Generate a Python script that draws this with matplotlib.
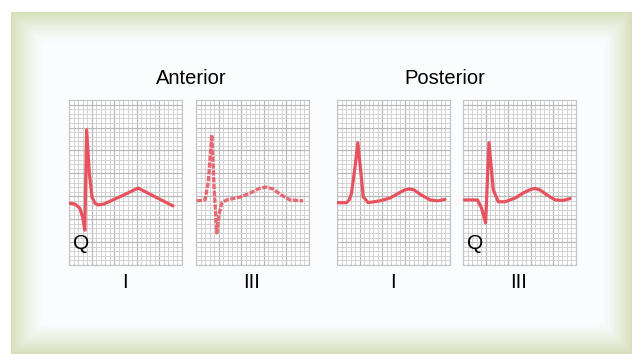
import numpy as np
import matplotlib.pyplot as plt

plt.rcParams['font.family'] = ['Liberation Sans', 'DejaVu Sans']

W, H = 632, 354

# ECG traces in grid units (x: 0..25 small squares, y: 0..36 small squares)
ant_I_x = [0, 1.3, 2.4, 3.0, 3.5, 3.9, 4.5, 5.1, 5.75, 6.4, 7.7, 11.5, 15.3, 19.0, 23.0]
ant_I_y = [13.5, 13.3, 12.4, 10.5, 7.6, 29.5, 20.0, 14.8, 13.5, 13.1, 13.3, 15.0, 16.8, 14.9, 12.9]

ant_III_x = [0.15, 2.0, 2.7, 3.5, 4.0, 4.6, 5.1, 5.7, 6.8, 9.7, 12.0, 14.0, 15.5, 17.0, 19.0, 20.8, 23.7]
ant_III_y = [14.0, 14.2, 18.0, 28.4, 17.0, 7.0, 11.0, 13.5, 14.2, 14.8, 15.7, 16.7, 17.0, 16.6, 15.2, 14.2, 14.0]

post_I_x = [0.07, 2.1, 2.7, 3.2, 4.0, 4.6, 5.3, 5.8, 6.9, 9.5, 11.7, 13.5, 15.0, 16.0, 17.0, 18.6, 20.6, 22.3, 23.9]
post_I_y = [13.6, 13.6, 14.2, 15.6, 21.5, 26.7, 20.0, 14.9, 13.6, 14.0, 14.6, 15.6, 16.4, 16.6, 16.4, 15.3, 14.2, 14.0, 14.3]

post_III_x = [0.3, 3.2, 4.1, 5.0, 5.75, 6.7, 7.8, 9.3, 11.5, 13.5, 15.0, 15.9, 17.0, 18.7, 20.4, 22.2, 23.7]
post_III_y = [14.2, 14.2, 12.4, 9.2, 26.7, 16.4, 13.8, 13.8, 14.6, 15.8, 16.5, 16.7, 16.4, 15.2, 14.2, 14.1, 14.5]

panels = [
    (69, ant_I_x, ant_I_y, '-', True),
    (196, ant_III_x, ant_III_y, 'dash', False),
    (337, post_I_x, post_I_y, '-', False),
    (463, post_III_x, post_III_y, '-', True),
]
group_titles = ['Anterior', 'Posterior']
group_title_x = [191, 445]
lead_labels = ['I', 'III', 'I', 'III']
lead_label_x = [125, 252, 393, 519]

RED = '#e8525f'
GREEN = np.array([214, 223, 186]) / 255
WHITE = np.array([251, 252, 254]) / 255

fig = plt.figure(figsize=(W / 100, H / 100), dpi=100)
fig.patch.set_facecolor('white')

# bevelled frame background
bg = fig.add_axes([0, 0, 1, 1])
bg.set_xlim(0, W)
bg.set_ylim(H, 0)
bg.axis('off')
x0, x1, y0, y1 = 11, 632, 12, 354
ix0, ix1, iy0, iy1 = 43, 602, 43, 323
xx, yy = np.meshgrid(np.arange(x0, x1) + 0.5, np.arange(y0, y1) + 0.5)
t = np.maximum.reduce([
    np.clip((ix0 - xx) / (ix0 - x0), 0, 1),
    np.clip((xx - ix1) / (x1 - ix1), 0, 1),
    np.clip((iy0 - yy) / (iy0 - y0), 0, 1),
    np.clip((yy - iy1) / (y1 - iy1), 0, 1),
])
t = t ** 1.3
img = WHITE[None, None, :] * (1 - t[..., None]) + GREEN[None, None, :] * t[..., None]
bg.imshow(img, extent=(x0, x1, y1, y0), interpolation='bilinear', aspect='auto')

pw, ph = 113, 165
top = 100
for (left, xs, ys, style, has_q) in panels:
    ax = fig.add_axes([left / W, 1 - (top + ph) / H, pw / W, ph / H])
    ax.set_facecolor('white')
    ax.set_xlim(0, 25)
    ax.set_ylim(0, 36)
    for v in range(0, 26):
        ax.axvline(v, color='#b9b9b9' if v % 5 == 0 else '#d2d2d2',
                   lw=0.9 if v % 5 == 0 else 0.7, zorder=1)
    for v in range(0, 37):
        ax.axhline(v, color='#b9b9b9' if v % 5 == 0 else '#d2d2d2',
                   lw=0.9 if v % 5 == 0 else 0.7, zorder=1)
    ax.set_xticks([])
    ax.set_yticks([])
    for s in ax.spines.values():
        s.set_color('#c4c4c4')
        s.set_linewidth(0.8)
    if style == 'dash':
        ax.plot(xs, ys, color=RED, lw=2.4, alpha=0.85, ls=(0, (1.6, 0.45)),
                solid_joinstyle='round', zorder=3)
    else:
        ax.plot(xs, ys, color=RED, lw=2.3, solid_joinstyle='round',
                solid_capstyle='round', zorder=3)
    if has_q:
        ax.text(2.6, 4.6, 'Q', fontsize=15, ha='center', va='center', zorder=4)

for lab, x in zip(group_titles, group_title_x):
    fig.text(x / W, 1 - 79 / H, lab, fontsize=14.5, ha='center', va='center')
for lab, x in zip(lead_labels, lead_label_x):
    fig.text(x / W, 1 - 282 / H, lab, fontsize=14.5, ha='center', va='center')

fig.savefig('out.png', dpi=100)
